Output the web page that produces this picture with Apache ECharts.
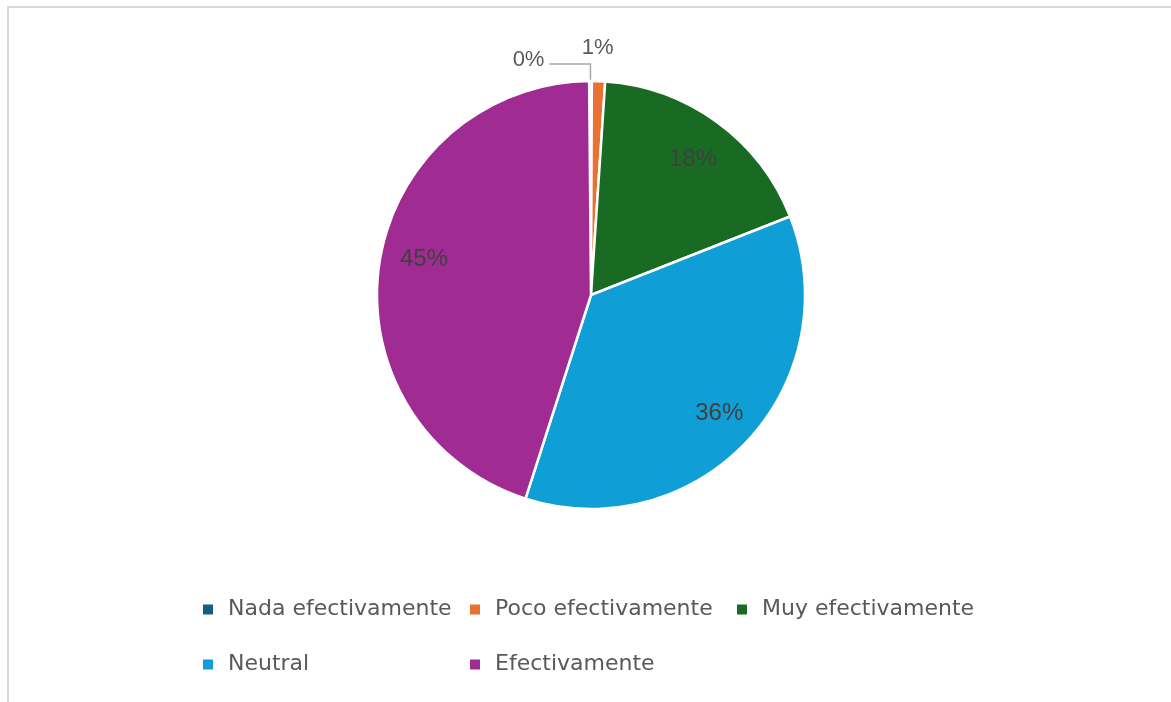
<!DOCTYPE html>
<html>
<head>
<meta charset="utf-8">
<script src="https://cdn.jsdelivr.net/npm/echarts@6/dist/echarts.min.js"></script>
<style>
  html, body { margin: 0; padding: 0; background: #ffffff; overflow: hidden; }
  #chart { position: absolute; left: 0; top: 0; width: 1171px; height: 702px; }
  #frame { position: absolute; left: 7px; top: 6px; width: 1300px; height: 800px;
           border-left: 2px solid #d9d9d9; border-top: 2px solid #d9d9d9; pointer-events: none; }
</style>
</head>
<body>
<div id="chart"></div>
<div id="frame"></div>
<script>
// Survey answers: share of responses per category (percent)
const categories = ['Nada efectivamente', 'Poco efectivamente', 'Muy efectivamente', 'Neutral', 'Efectivamente'];
const shares = [0.2, 1, 18, 36, 45];
const sliceColors = ['#156082', '#E97132', '#196B24', '#0F9ED5', '#A02B93'];

const pctLabel = p => Math.round(p.percent) + '%';
const CENTER = [591, 295];
const START = 90.5;

// Main pie: coloured slices, small slices labelled outside
const mainData = categories.map((name, i) => {
  const item = { name: name, value: shares[i], itemStyle: { color: sliceColors[i] } };
  if (i === 0) {
    item.label = { show: true, position: 'outside' };
    item.labelLine = { show: true, length: 17, length2: 41, smooth: false,
                       lineStyle: { color: '#a6a6a6', width: 1.5 } };
  } else if (i === 1) {
    item.label = { show: true, position: 'outside' };
    item.labelLine = { show: false, length: 33, length2: 0 };
  }
  return item;
});

// Label ring: transparent slices that place the large-slice labels
const labelData = categories.map((name, i) => ({
  name: name, value: shares[i], label: { show: i >= 2 }
}));

// small nudges of the percentage texts
const outerNudge = { 0: { dy: -4 }, 1: { dx: -23 } };
const innerNudge = { 2: { dy: 4 }, 3: { dx: 2 }, 4: { dy: -10, dx: 4 } };

const chart = echarts.init(document.getElementById('chart'), null, { renderer: 'canvas' });
chart.setOption({
  backgroundColor: 'transparent',
  animation: false,
  legend: {
    left: 203, top: 582, width: 820, padding: 0,
    orient: 'horizontal',
    icon: 'rect', itemWidth: 10, itemHeight: 10, itemGap: 0,
    itemStyle: { borderWidth: 0 },
    selectedMode: false,
    data: categories,
    textStyle: {
      fontFamily: 'DejaVu Sans', fontSize: 22, color: '#595959',
      width: 242, lineHeight: 55, padding: [0, 0, 0, 10]
    }
  },
  series: [
    {
      type: 'pie',
      center: CENTER,
      radius: [0, 214],
      startAngle: START,
      clockwise: true,
      avoidLabelOverlap: false,
      itemStyle: { borderColor: '#ffffff', borderWidth: 2.5 },
      label: { show: false, formatter: pctLabel, fontFamily: 'Liberation Sans',
               fontSize: 22, color: '#595959' },
      labelLine: { show: false },
      labelLayout: p => outerNudge[p.dataIndex] || {},
      emphasis: { disabled: true },
      data: mainData
    },
    {
      type: 'pie',
      center: CENTER,
      radius: [126, 214],
      startAngle: START,
      clockwise: true,
      silent: true,
      avoidLabelOverlap: false,
      itemStyle: { color: 'rgba(0,0,0,0)', borderWidth: 0 },
      label: { show: true, position: 'inside', formatter: pctLabel,
               fontFamily: 'Liberation Sans', fontSize: 24, color: '#404040' },
      labelLine: { show: false },
      labelLayout: p => innerNudge[p.dataIndex] || {},
      emphasis: { disabled: true },
      data: labelData
    }
  ]
});
</script>
</body>
</html>
